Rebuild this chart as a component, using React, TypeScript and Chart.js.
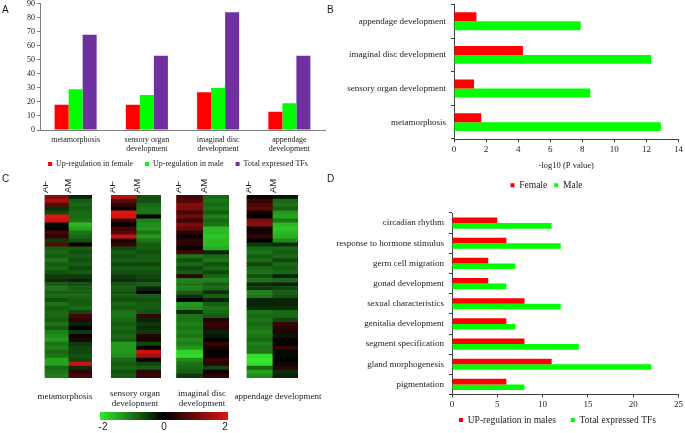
import React, { useEffect, useRef } from 'react';
import { Chart, registerables } from 'chart.js';
Chart.register(...registerables);

const SERIF = '"Liberation Serif", "Times New Roman", serif';
const SANS = '"Liberation Sans", Arial, sans-serif';
const RED = '#ff0000';
const GREEN = '#00ff00';
const PURPLE = '#7030a0';
const TXT = '#1a1a1a';

// ---------- Panel A ----------
const categoriesA = ['metamorphosis', ['sensory organ', 'development'], ['imaginal disc', 'development'], ['appendage', 'development']];
const upFemaleA = [18, 18, 27, 13];
const upMaleA = [29, 25, 30, 19];
const totalTFsA = [68, 53, 84, 53];

// ---------- Panel B ----------
const categoriesB = ['appendage development', 'imaginal disc development', 'sensory organ development', 'metamorphosis'];
const femaleB = [1.4, 4.3, 1.25, 1.7];
const maleB = [7.9, 12.3, 8.5, 12.9];

// ---------- Panel D ----------
const categoriesD = ['circadian rhythm', 'response to hormone stimulus', 'germ cell migration', 'gonad development', 'sexual characteristics', 'genitalia development', 'segment specification', 'gland morphogenesis', 'pigmentation'];
const upMalesD = [5, 6, 4, 4, 8, 6, 8, 11, 6];
const totalTFsD = [11, 12, 7, 6, 12, 7, 14, 22, 8];

// ---------- Panel C (heatmaps, rows top to bottom) ----------
const heatColumns = ['AF', 'AM'];
const metaAF = [1.2, 1.5, 0.8, -0.4, -0.6, 2.0, 1.8, -0.1, 0.0, 0.6, 0.4, -0.5, 0.8, -0.8, -0.9, -0.8, -1.0, -0.8, -0.9, -0.7, -0.5, -0.4, -0.8, -1.0, -0.8, -0.9, -0.7, -1.0, -0.8, -0.9, -0.9, -0.8, -1.0, -0.8, -1.1, -1.2, -1.3, -1.0, -1.1, -0.9, -1.0, -1.4, -1.4, -0.9, -1.0, -1.1];
const metaAM = [-0.3, -0.8, -0.9, -0.8, -0.9, -0.9, -1.0, -1.6, -1.4, -1.0, -0.9, -0.7, 0.1, -0.8, -0.7, -0.8, -0.7, -0.8, -0.6, -0.8, -0.5, -0.3, -0.7, -0.8, -0.8, -0.9, -0.8, -0.8, -0.9, -0.6, 0.6, 0.4, -0.3, 0.0, -0.5, 0.1, 0.3, -0.5, -0.6, -0.6, -0.7, -0.6, 1.8, -0.4, 0.4, 0.6];
const sensAF = [1.6, 0.8, 0.5, 0.1, 2.0, 1.9, 0.5, 0.0, 0.6, 0.7, 1.8, 0.2, 0.5, -0.6, -0.8, -0.7, -0.8, -0.6, -0.8, -0.7, -0.5, -0.4, -0.7, -0.8, -0.7, -0.8, -0.7, -0.9, -0.8, -1.0, -1.0, -0.9, -0.8, -0.9, -0.8, -0.9, -0.8, -1.3, -1.3, -1.3, -1.2, -0.9, -0.8, -0.9, -0.7, -0.8];
const sensAM = [-0.7, -0.7, -0.9, -1.0, -1.0, 0.0, -1.1, -1.2, -1.3, -1.0, -1.3, -1.0, -0.8, -0.8, -0.7, -0.8, -0.8, -0.6, -0.8, -0.7, -0.6, -0.5, -0.8, -0.3, 0.0, -0.8, -0.7, -0.8, -0.8, -0.7, 0.5, -0.3, -0.5, -0.4, -0.5, 0.3, 0.2, -0.6, 0.0, 1.8, 1.5, 0.1, -0.6, -0.8, 0.4, 0.5];
const imagAF = [0.6, 0.7, 1.2, 1.1, 0.6, 1.0, 0.5, 1.1, 0.9, 0.4, 0.1, 0.4, 0.3, 0.1, 0.6, -1.0, -0.7, -0.9, -0.6, -0.8, 0.4, -1.1, -1.0, -1.1, -0.8, -0.4, 0.0, -1.3, -1.2, -0.4, -1.0, -1.0, -1.1, -1.0, -1.1, -1.0, -1.2, -1.1, -1.3, -1.8, -1.9, -1.2, -1.0, -0.9, -0.8, -0.5];
const imagAM = [-0.9, -1.0, -0.9, -1.0, -0.8, -1.1, -0.9, -1.0, -1.6, -1.6, -1.7, -1.6, -1.6, -1.5, -0.3, -0.9, -1.0, -0.7, -0.9, -0.6, -0.9, -1.1, -0.8, -0.9, -0.4, -0.8, -0.3, -0.8, -1.0, -0.9, -0.8, 0.3, 0.5, 0.4, -0.3, -0.2, 0.0, 0.5, 0.2, 0.0, 0.1, 0.5, 0.4, -0.6, 0.1, 0.4];
const appAF = [0.1, 0.5, 0.7, 0.8, 0.2, 0.0, 1.1, 1.2, 0.1, 0.2, 0.4, 0.0, -0.5, -0.9, -1.0, -0.8, -0.9, -0.6, -0.9, -1.0, -0.7, -1.0, -0.4, -0.5, -1.1, -1.0, -0.3, -0.3, -0.4, -1.0, -0.9, -1.0, -0.9, -1.0, -1.1, -1.0, -0.9, -1.1, -1.0, -1.0, -1.9, -2.0, -1.9, -0.9, -1.4, -1.2];
const appAM = [-0.2, -0.9, -1.0, -0.8, -1.3, -1.4, -1.0, -1.6, -1.7, -1.6, -1.5, -1.2, -0.4, -0.9, -0.8, -0.9, -0.6, -0.9, -0.8, -0.9, -0.3, -0.9, -0.3, -0.6, -0.8, -0.7, -0.3, -0.3, -0.4, -0.9, -0.9, -0.6, 0.5, 0.4, 0.3, -0.2, 0.1, 0.0, 0.5, -0.1, -0.1, 0.0, -0.1, 0.4, -0.4, -0.3];
const colorbarTicks = [-2, 0, 2];

const GREEN_END = [55, 232, 45];
const RED_END = [225, 20, 20];
function heatColor(v: number) {
  const t = Math.min(1, Math.abs(v) / 2);
  const e = v < 0 ? GREEN_END : RED_END;
  return `rgb(${Math.round(e[0] * t)},${Math.round(e[1] * t)},${Math.round(e[2] * t)})`;
}

// moves the legend box after layout so it sits where the figure has it
const shiftLegend = {
  id: 'shiftLegend',
  afterLayout(chart: any, _args: any, opts: any) {
    const L = chart.legend;
    if (!L) return;
    const dx = opts.dx || 0;
    const dy = opts.dy || 0;
    L.left += dx; L.right += dx; L.top += dy; L.bottom += dy;
  },
};

function ChartCanvas({ left, top, width, height, make }: any) {
  const ref = useRef<HTMLCanvasElement>(null);
  useEffect(() => {
    const chart = new Chart(ref.current as HTMLCanvasElement, make());
    return () => chart.destroy();
  }, []);
  return (
    <canvas
      ref={ref}
      width={width}
      height={height}
      style={{ position: 'absolute', left, top, width, height }}
    />
  );
}

const baseOpts = {
  animation: false,
  responsive: false,
  maintainAspectRatio: false,
  devicePixelRatio: 1,
  events: [],
};

const noGrid = { display: false, drawTicks: false, tickLength: 0 };

function makeA() {
  const f = { family: SERIF, size: 8 };
  const AX = '#7f7f7f';
  return {
    type: 'bar',
    plugins: [shiftLegend],
    data: {
      labels: categoriesA,
      datasets: [
        { label: 'Up-regulation in female', data: upFemaleA, backgroundColor: RED },
        { label: 'Up-regulation in male', data: upMaleA, backgroundColor: GREEN },
        { label: 'Total expressed TFs', data: totalTFsA, backgroundColor: PURPLE },
      ],
    },
    options: {
      ...baseOpts,
      layout: { padding: { top: 4, left: 0, right: 10, bottom: 0 } },
      datasets: { bar: { categoryPercentage: 0.59, barPercentage: 1, borderWidth: 0 } },
      scales: {
        x: {
          grid: noGrid,
          border: { display: true, color: AX },
          ticks: { font: { ...f, lineHeight: 1.05 }, color: TXT, maxRotation: 0, autoSkip: false, padding: 6 },
          afterFit: (s: any) => { s.height = 26; },
        },
        y: {
          min: 0, max: 90,
          ticks: { stepSize: 10, font: f, color: TXT, padding: 2 },
          grid: { display: true, drawOnChartArea: false, drawTicks: true, tickLength: 3, color: AX },
          border: { display: true, color: AX },
          afterFit: (s: any) => { s.width = 40; },
        },
      },
      plugins: {
        legend: {
          position: 'bottom',
          labels: { boxWidth: 4, boxHeight: 4, font: f, color: TXT, padding: 12 },
        },
        shiftLegend: { dx: 15.5, dy: -8 },
        tooltip: { enabled: false },
      },
    },
  };
}

function makeB() {
  const f = { family: SERIF, size: 9 };
  const AX = '#404040';
  return {
    type: 'bar',
    plugins: [shiftLegend],
    data: {
      labels: categoriesB,
      datasets: [
        { label: 'Female', data: femaleB, backgroundColor: RED },
        { label: 'Male', data: maleB, backgroundColor: GREEN },
      ],
    },
    options: {
      ...baseOpts,
      indexAxis: 'y',
      layout: { padding: { top: 4, left: 0, right: 6, bottom: 0 } },
      datasets: { bar: { categoryPercentage: 0.53, barPercentage: 1, borderWidth: 0 } },
      scales: {
        x: {
          min: 0, max: 14,
          ticks: { stepSize: 2, font: f, color: TXT, padding: 2 },
          grid: { display: true, drawOnChartArea: false, drawTicks: true, tickLength: 3, color: AX },
          border: { display: true, color: AX },
          title: { display: true, text: '-log10 (P value)', font: { family: SERIF, size: 8.5 }, color: TXT, padding: { top: 0, bottom: 3 } },
          afterFit: (s: any) => { s.height = 34.5; },
        },
        y: {
          ticks: { font: f, color: TXT, padding: 5, autoSkip: false },
          grid: { display: true, drawOnChartArea: false, drawTicks: true, tickLength: 3, color: AX },
          border: { display: true, color: AX },
          afterFit: (s: any) => { s.width = 119; },
        },
      },
      plugins: {
        legend: {
          position: 'bottom',
          labels: { boxWidth: 4, boxHeight: 4, font: { family: SERIF, size: 9.5 }, color: TXT, padding: 7 },
        },
        shiftLegend: { dx: 39.5, dy: 0 },
        tooltip: { enabled: false },
      },
    },
  };
}

function makeD() {
  const f = { family: SERIF, size: 9 };
  const AX = '#404040';
  return {
    type: 'bar',
    plugins: [shiftLegend],
    data: {
      labels: categoriesD,
      datasets: [
        { label: 'UP-regulation in males', data: upMalesD, backgroundColor: RED },
        { label: 'Total expressed TFs', data: totalTFsD, backgroundColor: GREEN },
      ],
    },
    options: {
      ...baseOpts,
      indexAxis: 'y',
      layout: { padding: { top: 13, left: 0, right: 6, bottom: 0 } },
      datasets: { bar: { categoryPercentage: 0.55, barPercentage: 1, borderWidth: 0 } },
      scales: {
        x: {
          min: 0, max: 25,
          ticks: { stepSize: 5, font: f, color: TXT, padding: 2 },
          grid: { display: true, drawOnChartArea: false, drawTicks: true, tickLength: 3, color: AX },
          border: { display: true, color: AX },
          afterFit: (s: any) => { s.height = 20; },
        },
        y: {
          ticks: { font: f, color: TXT, padding: 5, autoSkip: false },
          grid: { display: true, drawOnChartArea: false, drawTicks: true, tickLength: 3, color: AX },
          border: { display: true, color: AX },
          afterFit: (s: any) => { s.width = 117; },
        },
      },
      plugins: {
        legend: {
          position: 'bottom',
          labels: { boxWidth: 4, boxHeight: 4, font: { family: SERIF, size: 9.5 }, color: TXT, padding: 15 },
        },
        shiftLegend: { dx: 50.5, dy: -14.25 },
        tooltip: { enabled: false },
      },
    },
  };
}

function makeHeat(af: number[], am: number[]) {
  return () => {
    const rows = af.length;
    const toPoints = (col: string, vals: number[]) => vals.map((v, i) => ({ x: col, y: [i, i + 1], v }));
    return {
      type: 'bar',
      data: {
        labels: heatColumns,
        datasets: [
          { label: 'AF', data: toPoints('AF', af), backgroundColor: af.map(heatColor) },
          { label: 'AM', data: toPoints('AM', am), backgroundColor: am.map(heatColor) },
        ],
      },
      options: {
        ...baseOpts,
        layout: { padding: 0 },
        datasets: { bar: { categoryPercentage: 1, barPercentage: 1, borderWidth: 0, grouped: false } },
        scales: {
          x: {
            position: 'top',
            grid: noGrid,
            border: { display: false },
            ticks: { font: { family: SANS, size: 9.5 }, color: TXT, minRotation: 90, maxRotation: 90, padding: 2 },
            afterFit: (s: any) => { s.height = 25; },
          },
          y: { type: 'linear', min: 0, max: rows, reverse: true, display: false },
        },
        plugins: { legend: { display: false }, tooltip: { enabled: false } },
      },
    };
  };
}

function makeColorbar() {
  return {
    type: 'bar',
    data: {
      labels: [''],
      datasets: [{
        data: [[-2.1, 2.1]],
        borderWidth: 0,
        backgroundColor: (ctx: any) => {
          const area = ctx.chart.chartArea;
          if (!area) return '#000';
          const g = ctx.chart.ctx.createLinearGradient(area.left, 0, area.right, 0);
          g.addColorStop(0, `rgb(${GREEN_END.join(',')})`);
          g.addColorStop(0.5, '#000');
          g.addColorStop(1, `rgb(${RED_END.join(',')})`);
          return g;
        },
      }],
    },
    options: {
      ...baseOpts,
      indexAxis: 'y',
      layout: { padding: { left: 10, right: 12, top: 0, bottom: 0 } },
      datasets: { bar: { categoryPercentage: 1, barPercentage: 1 } },
      scales: {
        x: {
          min: -2.1, max: 2.1,
          afterBuildTicks: (s: any) => { s.ticks = colorbarTicks.map((v) => ({ value: v })); },
          ticks: { font: { family: SANS, size: 10 }, color: TXT, padding: 1 },
          grid: noGrid,
          border: { display: false },
          afterFit: (s: any) => { s.height = 13; },
        },
        y: { display: false },
      },
      plugins: { legend: { display: false }, tooltip: { enabled: false } },
    },
  };
}

const letterStyle: any = { position: 'absolute', fontFamily: SANS, fontSize: 10, color: TXT, lineHeight: '10px' };
const capStyle: any = { position: 'absolute', fontFamily: SERIF, fontSize: 9, color: TXT, lineHeight: '10px', textAlign: 'center', whiteSpace: 'nowrap', transform: 'translateX(-50%)' };

export default function App() {
  useEffect(() => {
    document.body.style.margin = '0';
    document.body.style.overflow = 'hidden';
  }, []);
  return (
    <div style={{ position: 'relative', width: 685, height: 433, overflow: 'hidden', background: '#fff' }}>
      <ChartCanvas left={0} top={-3} width={335} height={189} make={makeA} />
      <ChartCanvas left={335} top={-6} width={350} height={206} make={makeB} />
      <ChartCanvas left={335} top={200} width={350} height={249} make={makeD} />
      <ChartCanvas left={43} top={170} width={49} height={208} make={makeHeat(metaAF, metaAM)} />
      <ChartCanvas left={110} top={170} width={51} height={208} make={makeHeat(sensAF, sensAM)} />
      <ChartCanvas left={176} top={170} width={53} height={208} make={makeHeat(imagAF, imagAM)} />
      <ChartCanvas left={246} top={170} width={52} height={208} make={makeHeat(appAF, appAM)} />
      <ChartCanvas left={90} top={412} width={150} height={21} make={makeColorbar} />
      <div style={{ ...letterStyle, left: 2, top: 5 }}>A</div>
      <div style={{ ...letterStyle, left: 327, top: 5 }}>B</div>
      <div style={{ ...letterStyle, left: 2, top: 174 }}>C</div>
      <div style={{ ...letterStyle, left: 327, top: 174 }}>D</div>
      <div style={{ ...capStyle, left: 65, top: 391 }}>metamorphosis</div>
      <div style={{ ...capStyle, left: 135, top: 388 }}>sensory organ<br />development</div>
      <div style={{ ...capStyle, left: 202, top: 388 }}>imaginal disc<br />development</div>
      <div style={{ ...capStyle, left: 278, top: 391 }}>appendage development</div>
    </div>
  );
}
